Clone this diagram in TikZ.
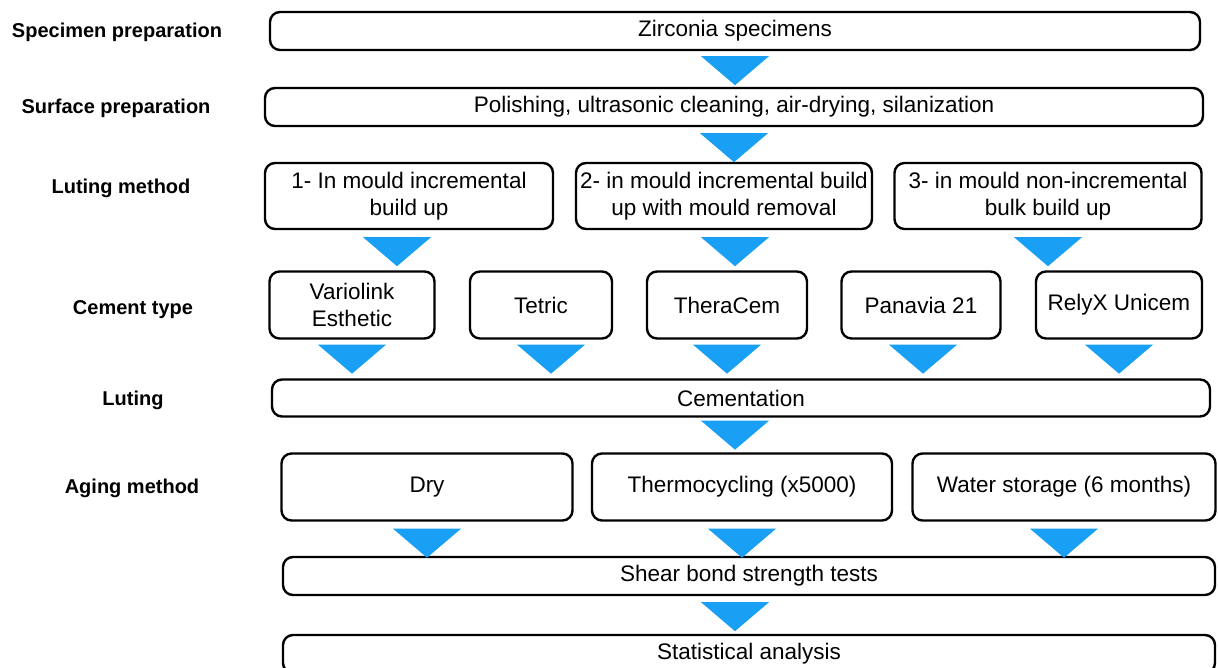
\documentclass[tikz,border=0pt]{standalone}
\usepackage{fontspec}
\setmainfont{Liberation Sans}
\definecolor{triblue}{RGB}{25,160,245}
\tikzset{
  stepbox/.style={draw, line width=2.4pt, rounded corners=10pt, align=center,
    inner sep=0pt, font=\fontsize{22.5}{27}\selectfont},
  rowlabel/.style={font=\fontsize{20}{24}\selectfont\bfseries},
  droptri/.pic={\fill[triblue] (-34,0) -- (34,0) -- (0,29) -- cycle;}
}
\begin{document}
\begin{tikzpicture}[x=1pt,y=-1pt]
  \useasboundingbox (0,0) rectangle (1218,668);
  % row labels
  \node[rowlabel] (lspec) at (117,32) {Specimen preparation};
  \node[rowlabel] (lsurf) at (116,108) {Surface preparation};
  \node[rowlabel] (lmeth) at (121,188) {Luting method};
  \node[rowlabel] (lcem) at (133,310) {Cement type};
  \node[rowlabel] (llut) at (133,400) {Luting};
  \node[rowlabel] (lage) at (132,488) {Aging method};
  % steps
  \node[stepbox, minimum width=930, minimum height=38] (zirc) at (735,31) {Zirconia specimens};
  \node[stepbox, minimum width=938, minimum height=38] (surf) at (734,107) {Polishing, ultrasonic cleaning, air-drying, silanization};
  \node[stepbox, minimum width=288, minimum height=66] (meth1) at (409,196) {1- In mould incremental\\build up};
  \node[stepbox, minimum width=296, minimum height=66] (meth2) at (724,196) {2- in mould incremental build\\up with mould removal};
  \node[stepbox, minimum width=307, minimum height=66] (meth3) at (1048,196) {3- in mould non-incremental\\bulk build up};
  \node[stepbox, minimum width=165, minimum height=67] (vario) at (352,305) {Variolink\\Esthetic};
  \node[stepbox, minimum width=142, minimum height=67] (tetric) at (541,305) {Tetric};
  \node[stepbox, minimum width=160, minimum height=67] (thera) at (727,305) {TheraCem};
  \node[stepbox, minimum width=159, minimum height=67] (pana) at (921,305) {Panavia 21};
  \node[stepbox, minimum width=166, minimum height=67] (relyx) at (1119,305) {RelyX Unicem};
  \node[stepbox, minimum width=938, minimum height=37] (cement) at (741,398) {Cementation};
  \node[stepbox, minimum width=291, minimum height=67] (dry) at (427,487) {Dry};
  \node[stepbox, minimum width=300, minimum height=67] (thermo) at (742,487) {Thermocycling (x5000)};
  \node[stepbox, minimum width=303, minimum height=67] (water) at (1064,487) {Water storage (6 months)};
  \node[stepbox, minimum width=932, minimum height=38] (shear) at (749,576) {Shear bond strength tests};
  \node[stepbox, minimum width=932, minimum height=38] (stat) at (749,654) {Statistical analysis};
  % arrows
  \path ([yshift=-5pt]zirc.south) pic {droptri};
  \path ([yshift=-6pt]surf.south) pic {droptri};
  \path ([xshift=-12pt,yshift=-7pt]meth1.south) pic {droptri};
  \path ([xshift=11pt,yshift=-7pt]meth2.south) pic {droptri};
  \path ([yshift=-7pt]meth3.south) pic {droptri};
  \foreach \c/\dx in {vario/0,tetric/10,thera/0,pana/2,relyx/0}
    \path ([xshift=\dx pt,yshift=-5pt]\c.south) pic {droptri};
  \path ([xshift=-6pt,yshift=-3pt]cement.south) pic {droptri};
  \foreach \c in {dry,thermo,water}
    \path ([yshift=-7pt]\c.south) pic {droptri};
  \path ([xshift=-14pt,yshift=-6pt]shear.south) pic {droptri};
\end{tikzpicture}
\end{document}
